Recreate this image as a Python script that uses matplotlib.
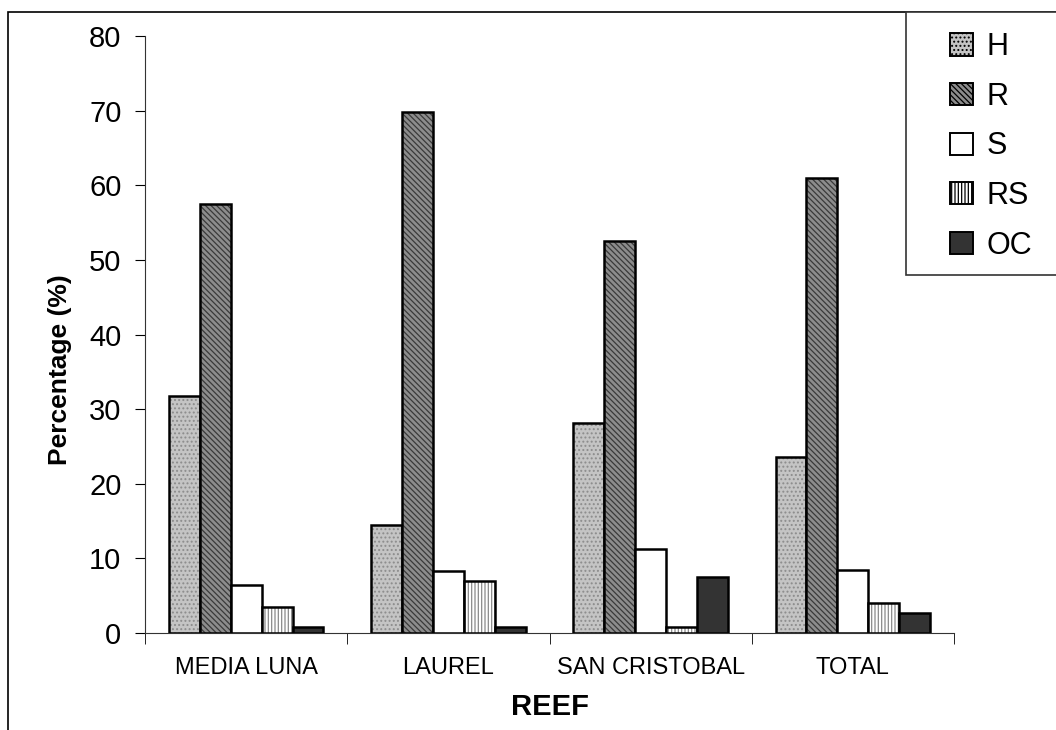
import numpy as np
import matplotlib.pyplot as plt
from matplotlib.patches import Rectangle, Patch

plt.rcParams['font.family'] = ['Liberation Sans', 'DejaVu Sans']
plt.rcParams['hatch.linewidth'] = 0.9

reefs = ["MEDIA LUNA", "LAUREL", "SAN CRISTOBAL", "TOTAL"]
series = ["H", "R", "S", "RS", "OC"]
H = [31.7, 14.5, 28.2, 23.6]
R = [57.5, 69.8, 52.5, 61.0]
S = [6.4, 8.3, 11.2, 8.5]
RS = [3.5, 7.0, 0.8, 4.0]
OC = [0.8, 0.8, 7.5, 2.7]
values = [H, R, S, RS, OC]

# face, hatch, hatch colour
styles = [
    ("#c4c4c4", "....", "#8c8c8c"),
    ("#8c8c8c", "\\\\\\\\\\\\", "#3a3a3a"),
    ("white", "", "white"),
    ("white", "|||||", "#8a8a8a"),
    ("#333333", "", "#333333"),
]

fig = plt.figure(figsize=(10.56, 7.30), dpi=100)
ax = fig.add_axes([145 / 1056, 1 - 633 / 730, (954 - 145) / 1056, (633 - 36) / 730])

x = np.arange(len(reefs))
w = 0.153
for i, (vals, (fc, hatch, hc)) in enumerate(zip(values, styles)):
    pos = x + (i - 2) * w
    ax.bar(pos, vals, w, color=fc, hatch=hatch, edgecolor=hc, linewidth=0)
    ax.bar(pos, vals, w, fill=False, edgecolor="black", linewidth=1.8)

ax.set_xlim(-0.5, 3.5)
ax.set_ylim(0, 80)
ax.set_yticks(np.arange(0, 81, 10))
ax.set_xticks(x)
ax.set_xticklabels(reefs, fontsize=17)
ax.set_xticks(np.arange(-0.5, 4, 1), minor=True)
ax.tick_params(axis="x", which="major", length=0, pad=17)
ax.tick_params(axis="x", which="minor", length=8, direction="out")
ax.tick_params(axis="y", labelsize=21, length=7, pad=10)
for s in ["top", "right"]:
    ax.spines[s].set_visible(False)
for s in ["left", "bottom"]:
    ax.spines[s].set_color("#333333")

fig.text(60 / 1056, 1 - 370 / 730, "Percentage (%)", rotation=90, fontsize=19,
         fontweight="bold", ha="center", va="center")
fig.text(550 / 1056, 1 - 707 / 730, "REEF", fontsize=21, fontweight="bold",
         ha="center", va="center")

# outer frame and legend box
fig.patches.append(Rectangle((8 / 1056, -0.1), 1.2, 1 - 12 / 730 + 0.1,
                             transform=fig.transFigure, fill=False,
                             edgecolor="black", linewidth=1.2))
fig.patches.append(Rectangle((906 / 1056, 1 - 275 / 730), 0.2, (275 - 12) / 730,
                             transform=fig.transFigure, facecolor="white",
                             edgecolor="#333333", linewidth=1.2, zorder=3))

handles = [Patch(facecolor=fc, hatch=h, edgecolor="black", linewidth=1.4)
           for fc, h, hc in styles]
leg = fig.legend(handles, series, loc="upper left", frameon=False, borderpad=0,
                 bbox_to_anchor=(935 / 1056, 1 - 17 / 730), fontsize=22,
                 handlelength=0.75, handleheight=0.75, handletextpad=0.45,
                 labelspacing=0.64)
leg.set_zorder(4)

fig.savefig("out.png", dpi=100)
